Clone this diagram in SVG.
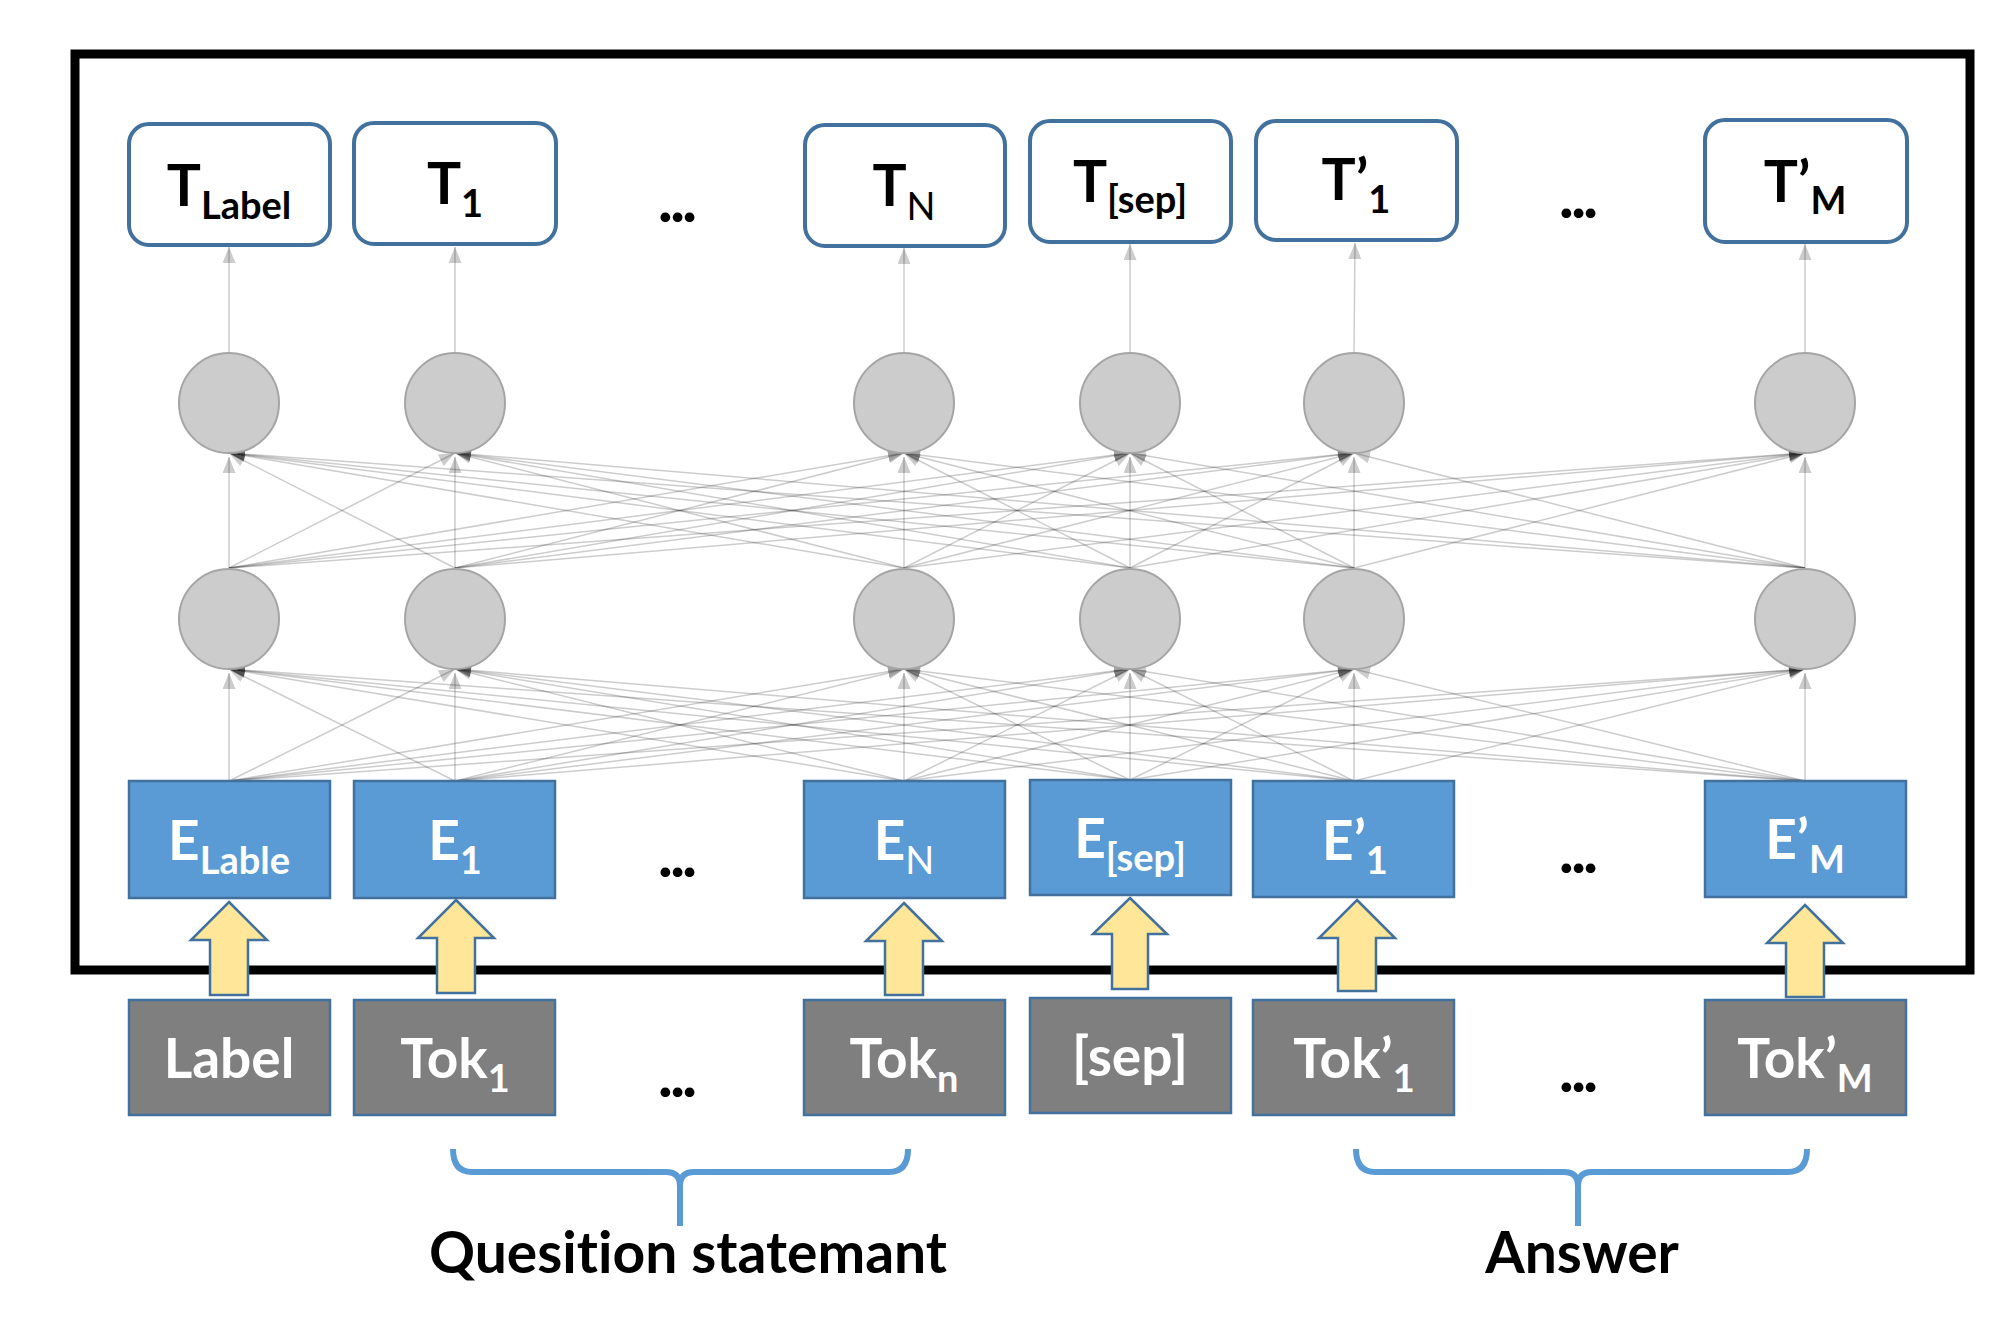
<svg xmlns="http://www.w3.org/2000/svg" width="2010" height="1324" viewBox="0 0 2010 1324">
<style>
.tbox{fill:#fff;stroke:#41719C;stroke-width:4}
.ebox{fill:#5B9BD5;stroke:#41719C;stroke-width:2.5}
.kbox{fill:#7F7F7F;stroke:#41719C;stroke-width:2.5}
.circ{fill:#CCCCCC;stroke:#A5A5A5;stroke-width:2}
.yarr{fill:#FFE699;stroke:#41719C;stroke-width:2.5;stroke-linejoin:miter}
.ln{fill:none;stroke:#000;stroke-opacity:0.2;stroke-width:1.5;marker-end:url(#ah)}
.brace{fill:none;stroke:#5B9BD5;stroke-width:6}
text{font-family:Lato,"Liberation Sans",sans-serif;font-weight:bold;text-anchor:middle;font-variant-ligatures:none;font-feature-settings:"liga" 0,"clig" 0}
.big{font-size:57px;fill:#000}
.wht{font-size:55px;fill:#fff}
.sub{font-size:38px}
.subn{font-size:38px;font-weight:normal}
.dots{font-size:64px;fill:#000;letter-spacing:-3px}
.lbl{font-size:57px;fill:#000}
</style>
<defs>
<marker id="ah" markerUnits="userSpaceOnUse" markerWidth="16" markerHeight="13" refX="16" refY="6.5" orient="auto">
<path d="M0,0L16,6.5L0,13z" fill="#000" fill-opacity="0.2"/>
</marker>
</defs>
<rect x="75" y="54" width="1895" height="916" fill="none" stroke="#000" stroke-width="9"/>
<g id="connectors">
<path class="ln" d="M229,353L229,247"/>
<path class="ln" d="M455,353L455,247"/>
<path class="ln" d="M904,353L904,248"/>
<path class="ln" d="M1130,353L1130,244"/>
<path class="ln" d="M1354,353L1355,243"/>
<path class="ln" d="M1805,353L1805,244"/>
<path class="ln" d="M229,568L229,457"/>
<path class="ln" d="M455,568L229,453"/>
<path class="ln" d="M904,568L229,453"/>
<path class="ln" d="M1130,568L229,453"/>
<path class="ln" d="M1354,568L229,453"/>
<path class="ln" d="M1805,568L229,453"/>
<path class="ln" d="M229,568L455,453"/>
<path class="ln" d="M455,568L455,457"/>
<path class="ln" d="M904,568L455,453"/>
<path class="ln" d="M1130,568L455,453"/>
<path class="ln" d="M1354,568L455,453"/>
<path class="ln" d="M1805,568L455,453"/>
<path class="ln" d="M229,568L904,453"/>
<path class="ln" d="M455,568L904,453"/>
<path class="ln" d="M904,568L904,457"/>
<path class="ln" d="M1130,568L904,453"/>
<path class="ln" d="M1354,568L904,453"/>
<path class="ln" d="M1805,568L904,453"/>
<path class="ln" d="M229,568L1130,453"/>
<path class="ln" d="M455,568L1130,453"/>
<path class="ln" d="M904,568L1130,453"/>
<path class="ln" d="M1130,568L1130,457"/>
<path class="ln" d="M1354,568L1130,453"/>
<path class="ln" d="M1805,568L1130,453"/>
<path class="ln" d="M229,568L1354,453"/>
<path class="ln" d="M455,568L1354,453"/>
<path class="ln" d="M904,568L1354,453"/>
<path class="ln" d="M1130,568L1354,453"/>
<path class="ln" d="M1354,568L1354,457"/>
<path class="ln" d="M1805,568L1354,453"/>
<path class="ln" d="M229,568L1805,453"/>
<path class="ln" d="M455,568L1805,453"/>
<path class="ln" d="M904,568L1805,453"/>
<path class="ln" d="M1130,568L1805,453"/>
<path class="ln" d="M1354,568L1805,453"/>
<path class="ln" d="M1805,568L1805,457"/>
<path class="ln" d="M229,781L229,673"/>
<path class="ln" d="M455,781L229,669"/>
<path class="ln" d="M904,781L229,669"/>
<path class="ln" d="M1130,780L229,669"/>
<path class="ln" d="M1354,781L229,669"/>
<path class="ln" d="M1805,781L229,669"/>
<path class="ln" d="M229,781L455,669"/>
<path class="ln" d="M455,781L455,673"/>
<path class="ln" d="M904,781L455,669"/>
<path class="ln" d="M1130,780L455,669"/>
<path class="ln" d="M1354,781L455,669"/>
<path class="ln" d="M1805,781L455,669"/>
<path class="ln" d="M229,781L904,669"/>
<path class="ln" d="M455,781L904,669"/>
<path class="ln" d="M904,781L904,673"/>
<path class="ln" d="M1130,780L904,669"/>
<path class="ln" d="M1354,781L904,669"/>
<path class="ln" d="M1805,781L904,669"/>
<path class="ln" d="M229,781L1130,669"/>
<path class="ln" d="M455,781L1130,669"/>
<path class="ln" d="M904,781L1130,669"/>
<path class="ln" d="M1130,780L1130,673"/>
<path class="ln" d="M1354,781L1130,669"/>
<path class="ln" d="M1805,781L1130,669"/>
<path class="ln" d="M229,781L1354,669"/>
<path class="ln" d="M455,781L1354,669"/>
<path class="ln" d="M904,781L1354,669"/>
<path class="ln" d="M1130,780L1354,669"/>
<path class="ln" d="M1354,781L1354,673"/>
<path class="ln" d="M1805,781L1354,669"/>
<path class="ln" d="M229,781L1805,669"/>
<path class="ln" d="M455,781L1805,669"/>
<path class="ln" d="M904,781L1805,669"/>
<path class="ln" d="M1130,780L1805,669"/>
<path class="ln" d="M1354,781L1805,669"/>
<path class="ln" d="M1805,781L1805,673"/>
</g>
<g id="t-label"><rect class="tbox" x="129" y="124" width="201" height="121" rx="20"/><text class="big" x="229" y="206">T<tspan class="sub" dy="13">Label</tspan></text></g>
<g id="t-1"><rect class="tbox" x="354" y="123" width="202" height="121" rx="20"/><text class="big" x="455" y="204">T<tspan class="sub" dy="13">1</tspan></text></g>
<g id="t-n"><rect class="tbox" x="805" y="125" width="200" height="121" rx="20"/><text class="big" x="904" y="206">T<tspan class="subn" dy="14">N</tspan></text></g>
<g id="t-sep"><rect class="tbox" x="1030" y="121" width="201" height="121" rx="20"/><text class="big" x="1130" y="202">T<tspan class="sub" dy="11">[sep]</tspan></text></g>
<g id="t-p1"><rect class="tbox" x="1256" y="121" width="201" height="119" rx="20"/><text class="big" x="1356" y="200">T’<tspan class="sub" dy="13">1</tspan></text></g>
<g id="t-pm"><rect class="tbox" x="1705" y="120" width="202" height="122" rx="20"/><text class="big" x="1805" y="202">T’<tspan class="sub" dy="12">M</tspan></text></g>
<text class="dots" x="676" y="222">...</text>
<text class="dots" x="1577" y="218">...</text>
<g id="h2-1"><circle class="circ" cx="229" cy="403" r="50"/></g>
<g id="h2-2"><circle class="circ" cx="455" cy="403" r="50"/></g>
<g id="h2-3"><circle class="circ" cx="904" cy="403" r="50"/></g>
<g id="h2-4"><circle class="circ" cx="1130" cy="403" r="50"/></g>
<g id="h2-5"><circle class="circ" cx="1354" cy="403" r="50"/></g>
<g id="h2-6"><circle class="circ" cx="1805" cy="403" r="50"/></g>
<g id="h1-1"><circle class="circ" cx="229" cy="619" r="50"/></g>
<g id="h1-2"><circle class="circ" cx="455" cy="619" r="50"/></g>
<g id="h1-3"><circle class="circ" cx="904" cy="619" r="50"/></g>
<g id="h1-4"><circle class="circ" cx="1130" cy="619" r="50"/></g>
<g id="h1-5"><circle class="circ" cx="1354" cy="619" r="50"/></g>
<g id="h1-6"><circle class="circ" cx="1805" cy="619" r="50"/></g>
<g id="e-label"><rect class="ebox" x="129" y="781" width="201" height="117"/><text class="wht" x="229" y="860">E<tspan class="sub" dy="14">Lable</tspan></text></g>
<g id="e-1"><rect class="ebox" x="354" y="781" width="201" height="117"/><text class="wht" x="455" y="860">E<tspan class="sub" dy="14">1</tspan></text></g>
<g id="e-n"><rect class="ebox" x="804" y="781" width="201" height="117"/><text class="wht" x="904" y="860">E<tspan class="subn" dy="14">N</tspan></text></g>
<g id="e-sep"><rect class="ebox" x="1030" y="780" width="201" height="115"/><text class="wht" x="1130" y="858">E<tspan class="sub" dy="13">[sep]</tspan></text></g>
<g id="e-p1"><rect class="ebox" x="1253" y="781" width="201" height="116"/><text class="wht" x="1355" y="860">E’<tspan class="sub" dy="14">1</tspan></text></g>
<g id="e-pm"><rect class="ebox" x="1705" y="781" width="201" height="116"/><text class="wht" x="1805" y="859">E’<tspan class="sub" dy="14">M</tspan></text></g>
<text class="dots" x="676" y="877">...</text>
<text class="dots" x="1577" y="873">...</text>
<g id="arrows-in">
<path class="yarr" d="M229,902L267,940L248,940L248,995L210,995L210,940L191,940z"/>
<path class="yarr" d="M456,900L494,938L475,938L475,993L437,993L437,938L418,938z"/>
<path class="yarr" d="M904,903L942,941L923,941L923,995L885,995L885,941L866,941z"/>
<path class="yarr" d="M1130,898L1167,934L1148,934L1148,989L1112,989L1112,934L1093,934z"/>
<path class="yarr" d="M1357,900L1395,938L1376,938L1376,991L1338,991L1338,938L1319,938z"/>
<path class="yarr" d="M1805,905L1843,943L1824,943L1824,997L1786,997L1786,943L1767,943z"/>
</g>
<g id="tok-label"><rect class="kbox" x="129" y="1000" width="201" height="115"/><text class="wht" x="229" y="1078">Label</text></g>
<g id="tok-1"><rect class="kbox" x="354" y="1000" width="201" height="115"/><text class="wht" x="455" y="1078">Tok<tspan class="sub" dy="14">1</tspan></text></g>
<g id="tok-n"><rect class="kbox" x="804" y="1000" width="201" height="115"/><text class="wht" x="904" y="1078">Tok<tspan class="sub" dy="14">n</tspan></text></g>
<g id="tok-sep"><rect class="kbox" x="1030" y="998" width="201" height="115"/><text class="wht" x="1130" y="1076">[sep]</text></g>
<g id="tok-p1"><rect class="kbox" x="1253" y="1000" width="201" height="115"/><text class="wht" x="1354" y="1078">Tok’<tspan class="sub" dy="14">1</tspan></text></g>
<g id="tok-pm"><rect class="kbox" x="1705" y="1000" width="201" height="115"/><text class="wht" x="1805" y="1078">Tok’<tspan class="sub" dy="14">M</tspan></text></g>
<text class="dots" x="676" y="1097">...</text>
<text class="dots" x="1577" y="1092">...</text>
<g id="brace-q"><path class="brace" d="M453,1149Q453,1172 472,1172L666,1172Q680,1172 680,1186L680,1226M680,1186Q680,1172 694,1172L889,1172Q908,1172 908,1149"/><text class="lbl" x="688" y="1273">Quesition statemant</text></g>
<g id="brace-a"><path class="brace" d="M1356,1149Q1356,1172 1375,1172L1564,1172Q1578,1172 1578,1186L1578,1226M1578,1186Q1578,1172 1592,1172L1788,1172Q1807,1172 1807,1149"/><text class="lbl" x="1582" y="1273">Answer</text></g>
</svg>
